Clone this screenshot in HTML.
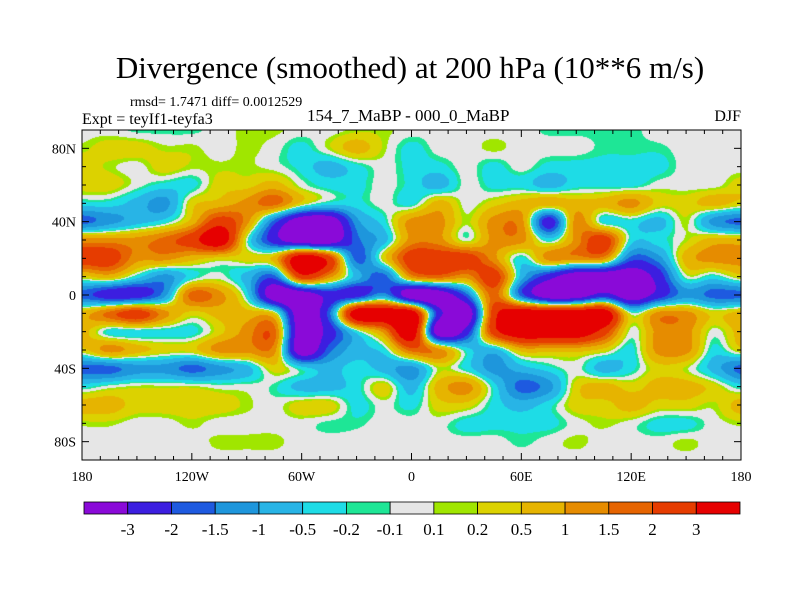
<!DOCTYPE html>
<html><head><meta charset="utf-8"><style>
body{margin:0;background:#fff;width:800px;height:600px;overflow:hidden;position:relative;font-family:"Liberation Serif",serif;}
.t{position:absolute;white-space:nowrap;color:#000;font-family:"Liberation Serif",serif;}
</style></head><body>
<div class="t" style="left:0;width:820px;text-align:center;top:50px;font-size:31px;">Divergence (smoothed) at 200 hPa (10**6 m/s)</div>
<div class="t" style="left:130px;top:95px;font-size:14px;">rmsd= 1.7471 diff= 0.0012529</div>
<div class="t" style="left:82px;top:111px;font-size:16px;">Expt = teyIf1-teyfa3</div>
<div class="t" style="left:307px;top:106px;font-size:17px;">154_7_MaBP - 000_0_MaBP</div>
<div class="t" style="right:59px;top:108px;font-size:16px;">DJF</div>
<canvas id="map" width="659" height="330" style="position:absolute;left:82px;top:130px;"></canvas>
<svg id="ov" width="800" height="600" style="position:absolute;left:0;top:0;"></svg>
<script>
const lons=[-180,-165,-150,-135,-120,-105,-90,-75,-60,-45,-30,-15,0,15,30,45,60,75,90,105,120,135,150,165,180];
const lats=[90,80,70,60,50,40,30,20,10,0,-10,-20,-30,-40,-50,-60,-70,-80,-90];
const divergence=[
[0,0,-.15,-.15,-.15,0,.15,.15,0,0,.15,.15,0,0,0,0,0,-.15,-.15,-.15,-.15,0,0,0,0],
[.15,.35,.35,.15,.15,0,.15,0,-.3,.15,.7,.15,-.3,0,0,.15,0,0,0,-.15,-.15,-.15,0,0,0],
[.35,.15,0,.35,.15,.15,.15,0,-.3,-.7,-.3,0,-.3,-.3,0,-.3,0,-.3,-.3,-.3,-.3,-.3,0,0,0],
[.35,.35,0,-.3,-.3,.35,.35,.7,0,-.3,-.3,0,-.3,-.7,0,-.3,-.3,-.7,-.3,-.3,-.3,0,0,0,.35],
[-.3,-.3,-.7,-1.2,.35,.7,1.2,1.7,.35,-.3,-.3,0,-.3,.7,0,.35,.7,.7,.7,.7,1.2,.35,.35,.7,.35],
[-1.7,-1.2,-.7,-.3,.7,2.5,1.2,-1.7,-4,-4,-1.2,-.3,1.2,1.2,.15,1.2,1.2,-2.5,1.2,-.3,-.3,-.7,.15,-1.2,-1.7],
[1.2,1.2,1.2,1.7,2.5,4,0,-2.5,-4,-4,-1.7,-.7,1.2,1.2,0,1.2,1.2,-.3,1.2,2.5,-.3,-.3,.15,.7,.7],
[2.5,2.5,1.2,1.2,.7,.35,.35,.7,4,2.5,-1.7,.35,2.5,2.5,2.5,1.2,-.3,1.2,1.2,1.2,-1.7,-1.2,.7,1.2,1.2],
[.35,.7,-.3,-1.2,-.3,0,-.7,-1.7,2.5,1.2,-.7,-1.7,1.2,1.7,1.2,2.5,-.7,-2.5,-4,-4,-4,-2.5,0,-.3,.35],
[-1.7,-2.5,-2.5,-1.2,1.7,1.2,-.3,-4,-4,-2.5,-2.5,-1.2,-4,-4,-1.7,1.7,-1.7,-4,-4,-2.5,-4,-2.5,-1.2,-1.7,-1.7],
[.7,1.7,2.5,1.2,.35,.7,.7,.35,-4,-1.7,4,4,4,-2.5,-4,2.5,4,4,4,4,0,1.2,1.2,.35,.7],
[.7,-.3,-.3,-.3,-.3,.35,1.2,1.7,-4,-2.5,-.3,1.2,4,-4,-2.5,2.5,4,4,4,2.5,0,1.2,1.2,0,.7],
[.35,1.2,.7,.35,.35,1.2,1.2,1.2,-4,-1.7,-.7,-.3,1.7,1.2,-.3,-.7,.7,.7,.7,.35,-.3,1.2,1.2,-.3,.35],
[-1.7,-1.7,-1.2,-1.2,-1.7,-1.2,-.7,.35,-.3,-.7,-.3,-.7,-1.2,.15,-.3,-1.2,-.7,-.3,0,-.7,-.3,.35,.15,-.7,-1.7],
[-.3,0,.15,.15,.15,0,0,-.15,-.7,-.7,-.3,.35,-.7,.7,1.2,-.3,-1.7,-1.2,.35,.7,.35,.7,.7,.35,-.3],
[.7,.7,.35,.35,.35,.35,.15,0,.35,.35,-.3,0,-.3,.35,.35,-.3,-.7,-.3,.35,.35,.7,.35,.35,.15,.7],
[.15,.15,0,0,.15,0,0,0,0,-.15,-.15,0,0,0,-.3,-.3,-.3,-.3,0,.15,0,-.3,-.3,0,.15],
[0,0,0,0,0,.15,.15,.15,0,0,0,0,0,0,0,0,-.15,0,.15,0,0,0,.15,0,0],
[0,0,0,0,0,0,0,0,0,0,0,0,0,0,0,0,0,0,0,0,0,0,0,0,0]];
const levels=[-3,-2,-1.5,-1,-0.5,-0.2,-0.1,0.1,0.2,0.5,1,1.5,2,3];
const levelLabels=["-3","-2","-1.5","-1","-0.5","-0.2","-0.1","0.1","0.2","0.5","1","1.5","2","3"];
const latTicks=[80,40,0,-40,-80];
const latTickLabels=["80N","40N","0","40S","80S"];
const lonTicks=[-180,-120,-60,0,60,120,180];
const lonTickLabels=["180","120W","60W","0","60E","120E","180"];
const colors=["#8a0ad8","#3c1ee0","#1e5ae0","#1e96dc","#28b4e6","#1edce6","#1ee696","#e6e6e6","#a0e600","#dcd200","#e6b400","#e68c00","#e66400","#e63c00","#e60000"];
const X0=82,X1=741,Y0=130,Y1=460;
function xOf(lon){return X0+(lon+180)/360*(X1-X0);}
function yOf(lat){return Y0+(90-lat)/180*(Y1-Y0);}
function bin(v){let i=0;while(i<levels.length&&v>=levels[i])i++;return i;}
function cr(p0,p1,p2,p3,t){return 0.5*((2*p1)+(-p0+p2)*t+(2*p0-5*p1+4*p2-p3)*t*t+(-p0+3*p1-3*p2+p3)*t*t*t);}
function g(r,c){r=Math.max(0,Math.min(lats.length-1,r));c=Math.max(0,Math.min(lons.length-1,c));return divergence[r][c];}
function sample(lon,lat){
 const fc=(lon-lons[0])/(lons[1]-lons[0]),fr=(lats[0]-lat)/(lats[0]-lats[1]);
 const c=Math.floor(fc),r=Math.floor(fr),tc=fc-c,tr=fr-r;const rows=[];
 for(let k=-1;k<=2;k++)rows.push(cr(g(r+k,c-1),g(r+k,c),g(r+k,c+1),g(r+k,c+2),tc));
 return cr(rows[0],rows[1],rows[2],rows[3],tr);}
const cv=document.getElementById('map'),ctx=cv.getContext('2d');
const W=cv.width,H=cv.height,img=ctx.createImageData(W,H);
const rgb=colors.map(h=>[parseInt(h.slice(1,3),16),parseInt(h.slice(3,5),16),parseInt(h.slice(5,7),16)]);
for(let y=0;y<H;y++)for(let x=0;x<W;x++){
 const lon=-180+(x+0.5)/W*360,lat=90-(y+0.5)/H*180;
 const c=rgb[bin(sample(lon,lat))],i=(y*W+x)*4;
 img.data[i]=c[0];img.data[i+1]=c[1];img.data[i+2]=c[2];img.data[i+3]=255;}
ctx.putImageData(img,0,0);
const NS='http://www.w3.org/2000/svg',svg=document.getElementById('ov');
function el(t,a,txt){const e=document.createElementNS(NS,t);for(const k in a)e.setAttribute(k,a[k]);if(txt!==undefined)e.textContent=txt;svg.appendChild(e);return e;}
let e=el('rect',{x:X0,y:Y0,width:X1-X0,height:Y1-Y0,fill:'none',stroke:'#000','stroke-width':1});


for(let lon=-180;lon<=180;lon+=10){const big=lon%60===0,L=big?7:4;
 e=el('line',{x1:xOf(lon),x2:xOf(lon),y1:Y1,y2:Y1-L,stroke:'#000'});
 
 
 e=el('line',{x1:xOf(lon),x2:xOf(lon),y1:Y0,y2:Y0+L,stroke:'#000'});
 
 }
for(let lat=-90;lat<=90;lat+=10){const big=(lat%40===0&&Math.abs(lat)<=80),L=big?7:4;
 e=el('line',{x1:X0,x2:X0+L,y1:yOf(lat),y2:yOf(lat),stroke:'#000'});
 
 
 e=el('line',{x1:X1,x2:X1-L,y1:yOf(lat),y2:yOf(lat),stroke:'#000'});
 
 }
latTicks.forEach((lat,i)=>{e=el('text',{x:X0-6,y:yOf(lat)+5,'text-anchor':'end','font-size':14,'font-family':'Liberation Serif,serif'},latTickLabels[i]);
 
 });
lonTicks.forEach((lon,i)=>{e=el('text',{x:xOf(lon),y:481,'text-anchor':'middle','font-size':14,'font-family':'Liberation Serif,serif'},lonTickLabels[i]);
 
 });
const CB0=84,CB1=740,bw=(CB1-CB0)/colors.length;
colors.forEach((c,i)=>{e=el('rect',{x:CB0+i*bw,y:502,width:bw,height:12,fill:c,stroke:'#000','stroke-width':0.8});
 
 });
levelLabels.forEach((t,i)=>{e=el('text',{x:CB0+(i+1)*bw,y:535,'text-anchor':'middle','font-size':17,'font-family':'Liberation Serif,serif'},t);
 
 });
</script>
</body></html>
